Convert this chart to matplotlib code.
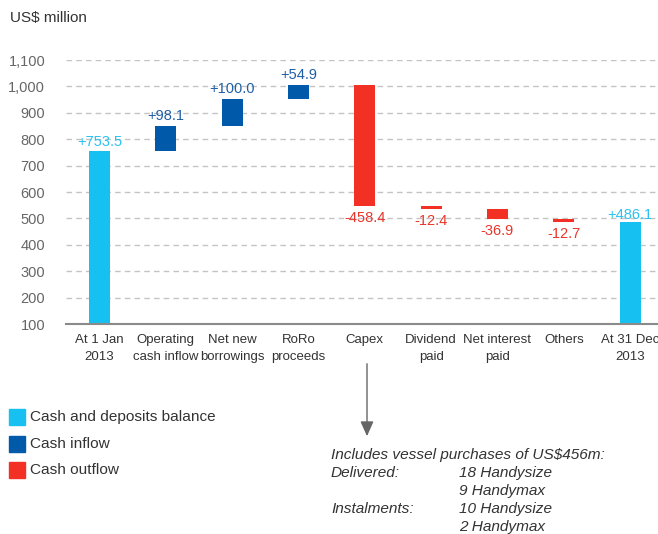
import numpy as np
import matplotlib.pyplot as plt
from matplotlib.patches import Rectangle, FancyArrowPatch

W, H = 658, 534

categories = ["At 1 Jan\n2013", "Operating\ncash inflow", "Net new\nborrowings", "RoRo\nproceeds",
              "Capex", "Dividend\npaid", "Net interest\npaid", "Others", "At 31 Dec\n2013"]
changes = [753.5, 98.1, 100.0, 54.9, -458.4, -12.4, -36.9, -12.7, 486.1]
kinds = ["balance", "inflow", "inflow", "inflow", "outflow", "outflow", "outflow", "outflow", "balance"]
labels = ["+753.5", "+98.1", "+100.0", "+54.9", "-458.4", "-12.4", "-36.9", "-12.7", "+486.1"]

legend_names = ["Cash and deposits balance", "Cash inflow", "Cash outflow"]
note_left = ["Includes vessel purchases of US$456m:", "Delivered:", "", "Instalments:", ""]
note_right = ["", "18 Handysize", "9 Handymax", "10 Handysize", "2 Handymax"]

colors = {"balance": "#16c1f1", "inflow": "#0059a9", "outflow": "#f23024"}
text_colors = {"balance": "#2ac3f0", "inflow": "#1f5fa8", "outflow": "#e8352b"}
BASE = 100

# waterfall bottoms / tops
bottoms, tops = [], []
running = 0.0
for k, c in zip(kinds, changes):
    if k == "balance":
        bottoms.append(BASE)
        tops.append(c)
        running = c
    else:
        start = running
        running = running + c
        bottoms.append(min(start, running))
        tops.append(max(start, running))

plt.rcParams['font.family'] = ['Liberation Sans', 'DejaVu Sans']

fig = plt.figure(figsize=(W / 100, H / 100), dpi=100)
ax = fig.add_axes([66 / W, (H - 324) / H, (W - 66) / W, (324 - 60) / H])

x = np.arange(len(categories))
ax.bar(x, np.array(tops) - np.array(bottoms), bottom=bottoms, width=0.32,
       color=[colors[k] for k in kinds], zorder=3)

ax.set_xlim(-0.505, 8.42)
ax.set_ylim(100, 1100)
ax.set_yticks(range(100, 1101, 100))
ax.set_yticklabels([f"{v:,}" for v in range(100, 1101, 100)])
ax.set_xticks(x)
ax.set_xticklabels(categories, fontsize=9.5, color="#333333", linespacing=1.55)
ax.tick_params(axis='y', length=0, pad=15, labelsize=10.5, labelcolor="#666666")
ax.tick_params(axis='x', length=0, pad=7)
ax.yaxis.grid(True, color="#c4c4c4", linestyle=(0, (4, 3)), linewidth=1, zorder=0)
ax.set_axisbelow(True)
for s in ["top", "right", "left"]:
    ax.spines[s].set_visible(False)
ax.spines["bottom"].set_color("#8a8a8a")
ax.spines["bottom"].set_linewidth(1.5)
ax.spines["bottom"].set_zorder(4)

for i, k in enumerate(kinds):
    if k == "outflow":
        ax.annotate(labels[i], (x[i], bottoms[i]), xytext=(0, -3.5), textcoords="offset points",
                    ha="center", va="top", fontsize=10.5, color=text_colors[k], zorder=5)
    else:
        off = 0 if i == len(kinds) - 1 else 2
        ax.annotate(labels[i], (x[i], tops[i]), xytext=(0, off), textcoords="offset points",
                    ha="center", va="bottom", fontsize=10.5, color=text_colors[k], zorder=5)

fig.text(10 / W, 1 - 18 / H, "US$ million", fontsize=11, color="#333333", va="center")

# legend
for j, name in enumerate(legend_names):
    top = [409, 436, 462][j]
    fig.patches.append(Rectangle((9 / W, 1 - (top + 16) / H), 16 / W, 16 / H,
                                 transform=fig.transFigure, color=colors[["balance", "inflow", "outflow"][j]]))
    fig.text(30 / W, 1 - (top + 8) / H, name, fontsize=11.1, color="#333333", va="center")

# arrow from capex
fig.patches.append(FancyArrowPatch(
    (367 / W, 1 - 361 / H), (367 / W, 1 - 439 / H), transform=fig.transFigure,
    arrowstyle="-|>,head_length=9,head_width=4", color="#666666", linewidth=1))

line_y = [455, 473, 491, 509, 527]
for yy, a, b in zip(line_y, note_left, note_right):
    if a:
        fig.text(331 / W, 1 - yy / H, a, fontsize=11.1, style="italic", color="#333333", va="center")
    if b:
        fig.text(459 / W, 1 - yy / H, b, fontsize=11.1, style="italic", color="#333333", va="center")

fig.savefig("out.png", dpi=100)
